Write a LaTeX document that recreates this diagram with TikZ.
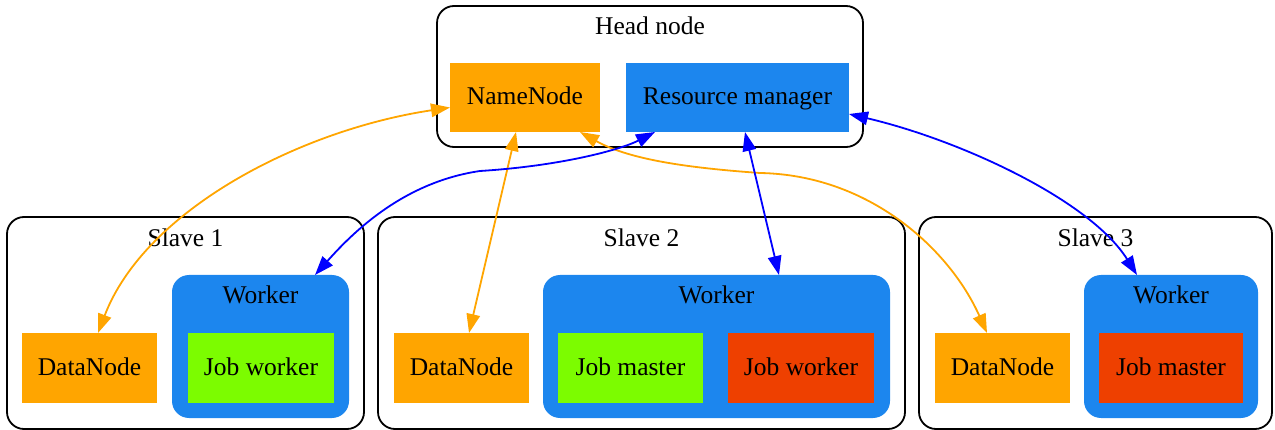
\documentclass[tikz,border=0pt]{standalone}
\usepackage{fontspec}
\setmainfont{Liberation Serif}
\usetikzlibrary{arrows.meta}
\definecolor{nnorange}{HTML}{FFA500}
\definecolor{rmblue}{HTML}{1C86EE}
\definecolor{jobgreen}{HTML}{7CFC00}
\definecolor{jobred}{HTML}{EE4000}
\definecolor{linkblue}{HTML}{0000FF}

\begin{document}
\begin{tikzpicture}[x=1pt,y=-1pt,
  font=\fontsize{25.5}{30}\selectfont,
  cluster/.style={rectangle, draw=black, line width=1.8pt, rounded corners=17pt,
    inner sep=0pt, outer sep=0pt},
  workerbox/.style={rectangle, fill=rmblue, rounded corners=17pt,
    inner sep=0pt, outer sep=0pt, minimum height=143pt},
  box/.style={rectangle, inner sep=0pt, outer sep=0pt, minimum height=69pt,
    text height=15pt, text depth=0pt},
  title/.style={anchor=base, inner sep=0pt},
  link/.style={line width=1.8pt, {Triangle[length=19pt,width=13.5pt]}-{Triangle[length=19pt,width=13.5pt]}},
  hdfs/.style={link, color=nnorange},
  yarn/.style={link, color=linkblue},
]
\useasboundingbox (0,0) rectangle (1275,430);

% Clusters
\node[cluster, minimum width=426pt, minimum height=141pt] (head) at (650,76.5) {};
\node[cluster, minimum width=357pt, minimum height=212pt] (slave1) at (185.5,323) {};
\node[cluster, minimum width=527pt, minimum height=212pt] (slave2) at (641.5,323) {};
\node[cluster, minimum width=353pt, minimum height=212pt] (slave3) at (1095.5,323) {};
\node[title] (headlbl) at (650,35) {Head node};
\node[title] (slave1lbl) at (185.5,247) {Slave 1};
\node[title] (slave2lbl) at (641.5,247) {Slave 2};
\node[title] (slave3lbl) at (1095.5,247) {Slave 3};

% Head node services
\node[box, fill=nnorange, minimum width=150pt] (nn) at (525,97.5) {NameNode};
\node[box, fill=rmblue, minimum width=223pt] (rm) at (737.5,97.5) {Resource manager};

% Data nodes
\node[box, fill=nnorange, minimum width=135pt, minimum height=70pt] (dn1) at (89.5,368) {DataNode};
\node[box, fill=nnorange, minimum width=135pt, minimum height=70pt] (dn2) at (461.5,368) {DataNode};
\node[box, fill=nnorange, minimum width=135pt, minimum height=70pt] (dn3) at (1002.5,368) {DataNode};

% Workers
\node[workerbox, minimum width=177pt] (w1) at (260.5,346.5) {};
\node[workerbox, minimum width=347pt] (w2) at (716.5,346.5) {};
\node[workerbox, minimum width=174pt] (w3) at (1171,346.5) {};
\node[title] (w1lbl) at (260.5,304) {Worker};
\node[title] (w2lbl) at (716.5,304) {Worker};
\node[title] (w3lbl) at (1171,304) {Worker};

% Jobs
\node[box, fill=jobgreen, minimum width=146pt, minimum height=70pt] (jw1) at (261,368) {Job worker};
\node[box, fill=jobgreen, minimum width=145pt, minimum height=70pt] (jm2) at (630.5,368) {Job master};
\node[box, fill=jobred, minimum width=146pt, minimum height=70pt] (jw2) at (801,368) {Job worker};
\node[box, fill=jobred, minimum width=144pt, minimum height=70pt] (jm3) at (1171,368) {Job master};

% HDFS links
\draw[hdfs] ([yshift=-10pt]nn.west) .. controls (300,130) and (145,210) .. ([xshift=8.5pt]dn1.north);
\draw[hdfs] ([xshift=-9pt]nn.south) -- ([xshift=7.5pt]dn2.north);
\coordinate (hmid) at (760,173);
\draw[hdfs] ([xshift=55pt]nn.south) .. controls (630,160) and (690,168) .. (hmid)
  .. controls (870,175) and (950,250) .. ([xshift=-15.5pt]dn3.north);

% YARN links
\coordinate (ymid) at (480,171);
\draw[yarn] ([xshift=-82.5pt]rm.south) .. controls (620,150) and (560,166) .. (ymid)
  .. controls (405,182) and (355,230) .. ([xshift=54.5pt]w1.north);
\draw[yarn] ([xshift=7.5pt]rm.south) -- ([xshift=62.5pt]w2.north);
\draw[yarn] ([yshift=-16.5pt]rm.east) .. controls (960,140) and (1090,200) .. ([xshift=-34pt]w3.north);
\end{tikzpicture}
\end{document}
